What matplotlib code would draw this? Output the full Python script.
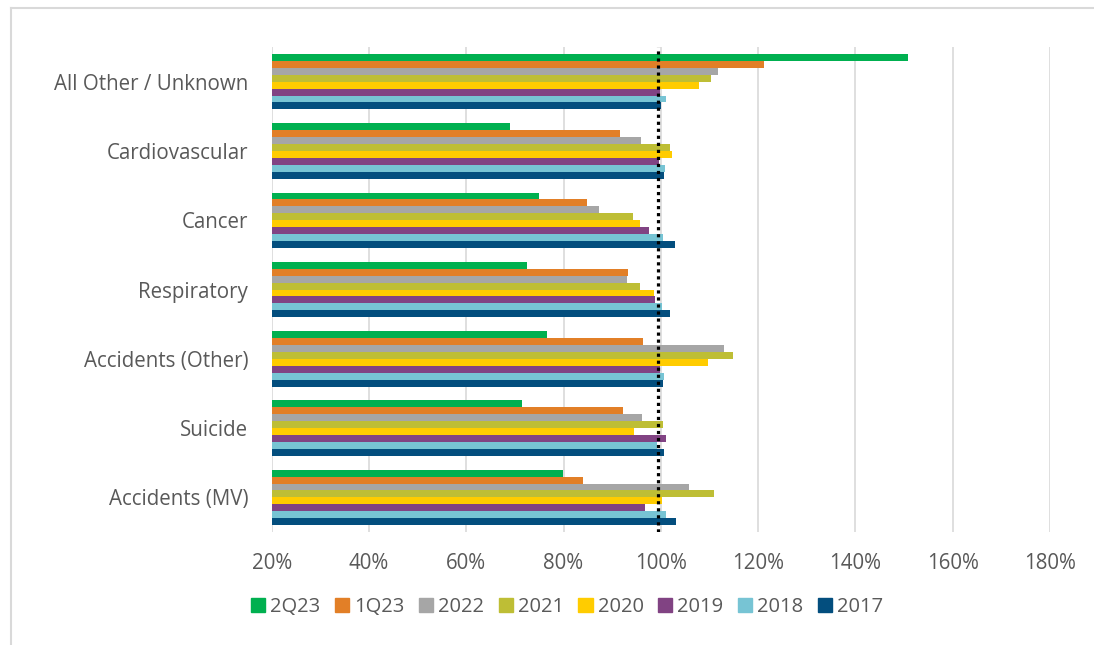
import numpy as np
import matplotlib
matplotlib.use('Agg')
import matplotlib.pyplot as plt
from matplotlib.lines import Line2D

plt.rcParams['font.family'] = ['Open Sans', 'DejaVu Sans']

categories = ['All Other / Unknown', 'Cardiovascular', 'Cancer', 'Respiratory',
              'Accidents (Other)', 'Suicide', 'Accidents (MV)']
series = ['2Q23', '1Q23', '2022', '2021', '2020', '2019', '2018', '2017']
colors = ['#00B050', '#E27F27', '#A6A6A6', '#BEBE35', '#FFCC00', '#814383', '#77C4D4', '#034E7E']

# values in %, one list per series, in category order
v_2q23 = [150.8, 68.9, 75.0, 72.5, 76.5, 71.4, 79.8]
v_1q23 = [121.2, 91.7, 84.9, 93.3, 96.3, 92.3, 84.0]
v_2022 = [111.7, 96.0, 87.3, 93.1, 112.9, 96.1, 105.7]
v_2021 = [110.3, 101.9, 94.2, 95.8, 114.9, 100.5, 111.0]
v_2020 = [107.8, 102.2, 95.8, 98.6, 109.6, 94.5, 100.2]
v_2019 = [99.8, 99.6, 97.6, 98.9, 99.8, 101.0, 96.7]
v_2018 = [101.1, 100.8, 100.5, 100.3, 100.7, 99.3, 101.1]
v_2017 = [100.1, 100.6, 102.9, 101.8, 100.4, 100.6, 103.2]
values = [v_2q23, v_1q23, v_2022, v_2021, v_2020, v_2019, v_2018, v_2017]
ref_line = 99.4

fig = plt.figure(figsize=(10.94, 6.45), dpi=100)
ax = fig.add_axes([271.7 / 1094, 1 - 532 / 645, (1050 - 271.7) / 1094, 485 / 645])

n = len(series)
bh = 0.8 / n
y = np.arange(len(categories))
base = 20
for i, (name, vals, c) in enumerate(zip(series, values, colors)):
    offs = -0.4 + bh * (i + 0.5)
    ax.barh(y + offs, np.array(vals) - base, left=base, height=bh, color=c,
            label=name, edgecolor='none', zorder=3)

ax.axvline(ref_line, color='black', linestyle=(0, (1, 1.2)), linewidth=2.3, zorder=4)

ax.set_xlim(20, 180)
ax.set_ylim(len(categories) - 0.5, -0.5)
ax.set_xticks(np.arange(20, 181, 20))
ax.set_xticklabels([f'{t}%' for t in range(20, 181, 20)])
ax.set_yticks(y)
ax.set_yticklabels(categories)
ax.tick_params(axis='both', length=0, labelsize=14.8, labelcolor='#595959')
ax.tick_params(axis='x', pad=15)
ax.tick_params(axis='y', pad=17)
ax.grid(axis='x', color='#D9D9D9', linewidth=1.2, zorder=0)
for s in ax.spines.values():
    s.set_visible(False)

handles = [plt.Rectangle((0, 0), 1, 1, color=c) for c in colors]
fig.legend(handles, series, loc='center', bbox_to_anchor=(567 / 1094, 1 - 607 / 645),
           ncol=n, frameon=False, fontsize=14.5, handlelength=0.7, handleheight=0.7,
           handletextpad=0.25, columnspacing=0.72, labelcolor='#595959')

# outer border (cropped screenshot: left and top edges only)
fig.add_artist(Line2D([10.5 / 1094, 10.5 / 1094], [0, 1 - 8 / 645], color='#D9D9D9',
                      linewidth=1.5, transform=fig.transFigure))
fig.add_artist(Line2D([10.5 / 1094, 1], [1 - 8 / 645, 1 - 8 / 645], color='#D9D9D9',
                      linewidth=1.5, transform=fig.transFigure))

fig.savefig('out.png', dpi=100)
